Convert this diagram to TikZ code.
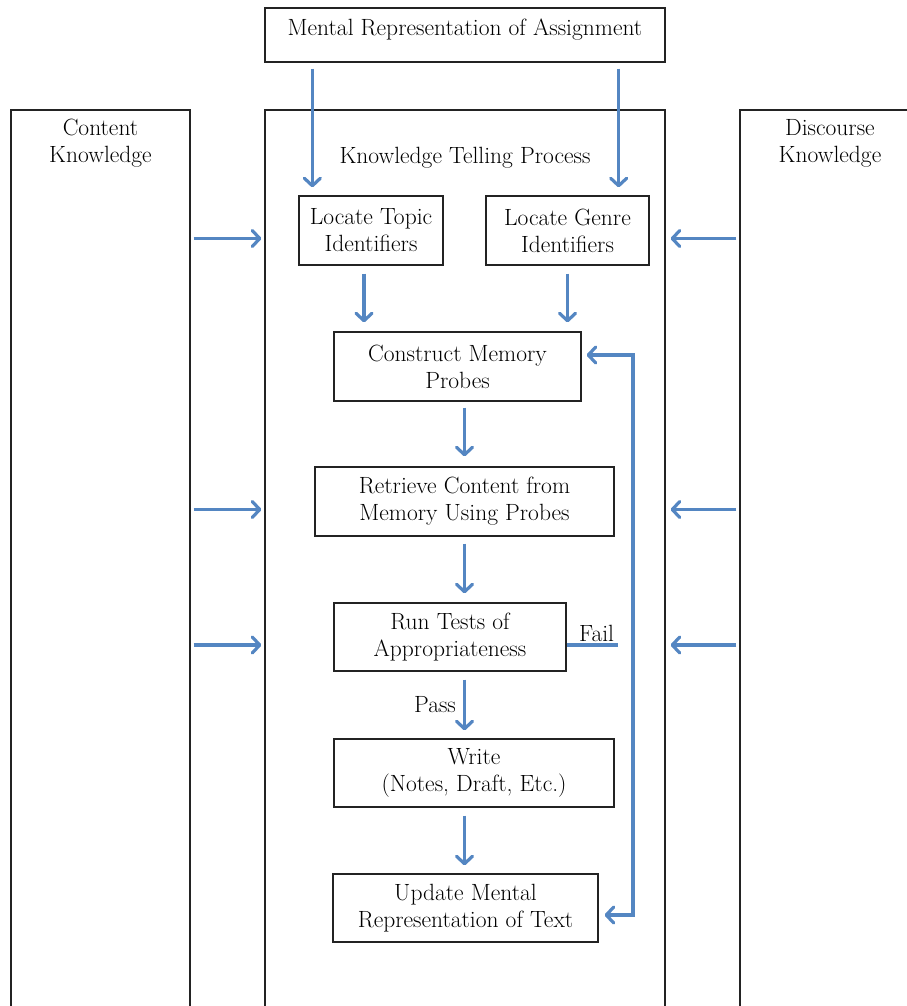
\documentclass[tikz,border=0pt]{standalone}
\usepackage{tikz}
\usetikzlibrary{positioning,arrows.meta}
\definecolor{arrowblue}{RGB}{84,134,194}
\definecolor{boxline}{RGB}{35,35,35}
\tikzset{
  blk/.style={draw=boxline,line width=1.3pt,align=center,inner sep=0pt,minimum height=69pt},
  col/.style={draw=boxline,line width=1.3pt,inner sep=0pt,minimum height=920pt},
  io/.style={align=center,inner sep=0pt},
  ar/.style={-{Straight Barb[length=7.5pt,width=16pt,round]},line width=3.2pt,draw=arrowblue},
  dar/.style={{Straight Barb[length=7.5pt,width=16pt,round]}-{Straight Barb[length=7.5pt,width=16pt,round]},line width=3.2pt,draw=arrowblue},
  ln/.style={line width=3.2pt,draw=arrowblue},
  tag/.style={inner sep=2pt},
}

\begin{document}
\begin{tikzpicture}[x=1pt,y=1pt,font=\fontsize{23.5}{27}\selectfont]
  \useasboundingbox (0,0) rectangle (907,-1006);
  \clip (0,0) rectangle (907,-1006);
  % knowledge columns
  \node[col,minimum width=179pt] (lcol) at (100.5,-570) {};
  \node[col,minimum width=400pt] (mcol) at (465,-570) {};
  \node[col,minimum width=180pt] (rcol) at (830,-570) {};
  \node[io,below=10pt of lcol.north] (ltitle) {Content\\Knowledge};
  \node[io,below=38pt of mcol.north] (mtitle) {Knowledge Telling Process};
  \node[io,below=10pt of rcol.north] (rtitle) {Discourse\\Knowledge};
  % assignment
  \node[blk,minimum width=400pt,minimum height=54pt] (mra) at (465,-35) {};
  \node[io,below=11pt of mra.north] (mratitle) {Mental Representation of Assignment};
  % process boxes
  \node[blk,minimum width=144pt] (topic) at (371,-230.5) {Locate Topic\\Identifiers};
  \node[blk,minimum width=163pt] (genre) at (567.5,-230.5) {Locate Genre\\Identifiers};
  \node[blk,minimum width=247pt] (probes) at (457.5,-366.5) {Construct Memory\\Probes};
  \node[blk,minimum width=299pt] (retrieve) at (464.5,-501.5) {Retrieve Content from\\Memory Using Probes};
  \node[blk,minimum width=232pt,minimum height=68pt] (tests) at (450,-637) {Run Tests of\\Appropriateness};
  \node[blk,minimum width=280pt,minimum height=68pt] (write) at (474,-773) {Write\\(Notes, Draft, Etc.)};
  \node[blk,minimum width=265pt,minimum height=68pt] (update) at (465.5,-908) {Update Mental\\Representation of Text};
  \coordinate (lp) at (633,-915);
  % arrows
  \draw[ar] ([xshift=14pt,yshift=-6pt]topic.north west |- mra.south) -- ([xshift=14pt,yshift=8pt]topic.north west);
  \draw[ar] ([xshift=-31pt,yshift=-6pt]genre.north east |- mra.south) -- ([xshift=-31pt,yshift=8pt]genre.north east);
  \draw[ar] ([xshift=-7pt,yshift=-8pt]topic.south) -- ([xshift=-7pt,yshift=9pt]topic.south |- probes.north);
  \draw[ar] ([yshift=-8pt]genre.south) -- ([yshift=9pt]genre.south |- probes.north);
  \draw[ar] ([yshift=-6pt]probes.south -| retrieve.north) -- ([yshift=10pt]retrieve.north);
  \draw[ar] ([yshift=-7pt]retrieve.south) -- ([yshift=9pt]retrieve.south |- tests.north);
  \draw[ar] ([yshift=-8pt]tests.south -| retrieve.south) -- ([yshift=8pt]write.north -| retrieve.south)
    node[tag,midway,left=5pt] (pass) {Pass};
  \draw[ar] ([yshift=-8pt]write.south -| retrieve.south) -- ([yshift=8pt]update.north -| retrieve.south);
  \draw[ln] ([yshift=-8pt]tests.east) -- ++(51,0) node[tag,above left] (fail) {Fail};
  \draw[dar] ([xshift=5pt,yshift=11.5pt]probes.east) -| (lp) -- ([xshift=6pt,yshift=-7pt]update.east);
  \foreach \n in {topic,retrieve,tests} {
    \draw[ar] ([xshift=3pt,yshift=-8pt]lcol.east |- \n) -- ([xshift=-3pt,yshift=-8pt]mcol.west |- \n);
    \draw[ar] ([xshift=-3pt,yshift=-8pt]rcol.west |- \n) -- ([xshift=5pt,yshift=-8pt]mcol.east |- \n);
  }
\end{tikzpicture}
\end{document}
